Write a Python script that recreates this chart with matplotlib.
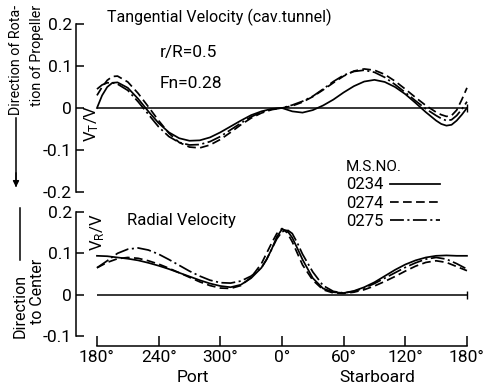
import matplotlib
matplotlib.use('Agg')
import matplotlib.pyplot as plt

plt.rcParams['font.family'] = ['Roboto', 'DejaVu Sans']
plt.rcParams['mathtext.fontset'] = 'custom'
plt.rcParams['mathtext.rm'] = 'Roboto'
plt.rcParams['mathtext.it'] = 'Roboto'

# angle around the propeller disc, 180..540 stands for 180 deg port -> 0 -> 180 deg starboard
deg_top = [180, 185, 190, 195, 200, 210, 220, 230, 240, 250, 260, 270, 280, 290, 300,
           310, 320, 330, 340, 350, 360, 370, 380, 390, 400, 410, 420, 430, 440, 450,
           460, 470, 480, 490, 500, 510, 515, 520, 525, 530, 535, 540]
tan_0234 = [0.0, 0.03, 0.05, 0.06, 0.061, 0.048, 0.022, -0.008, -0.036, -0.058, -0.072,
            -0.078, -0.077, -0.07, -0.058, -0.044, -0.03, -0.017, -0.008, -0.002, 0.0,
            -0.008, -0.011, -0.005, 0.006, 0.02, 0.037, 0.052, 0.063, 0.067, 0.062, 0.05,
            0.033, 0.012, -0.01, -0.03, -0.038, -0.042, -0.04, -0.03, -0.016, 0.0]
tan_0274 = [0.03, 0.05, 0.066, 0.075, 0.076, 0.062, 0.035, 0.003, -0.03, -0.06, -0.082,
            -0.093, -0.095, -0.088, -0.075, -0.058, -0.04, -0.024, -0.012, -0.004, 0.0,
            0.005, 0.014, 0.027, 0.043, 0.06, 0.076, 0.088, 0.093, 0.09, 0.08, 0.064,
            0.045, 0.025, 0.006, -0.01, -0.016, -0.02, -0.018, -0.005, 0.02, 0.048]
tan_0275 = [0.045, 0.055, 0.06, 0.06, 0.057, 0.042, 0.015, -0.015, -0.045, -0.068, -0.082,
            -0.088, -0.087, -0.08, -0.068, -0.052, -0.036, -0.021, -0.01, -0.003, 0.0,
            0.007, 0.016, 0.028, 0.045, 0.063, 0.078, 0.087, 0.09, 0.085, 0.073, 0.056,
            0.037, 0.017, -0.002, -0.018, -0.025, -0.03, -0.028, -0.018, -0.003, 0.015]

deg_bot = [180, 190, 200, 210, 220, 230, 240, 250, 260, 270, 280, 290, 300, 310, 320,
           330, 340, 345, 350, 355, 360, 365, 370, 375, 380, 390, 400, 410, 420, 430,
           440, 450, 460, 470, 480, 490, 500, 510, 520, 530, 540]
rad_0234 = [0.094, 0.093, 0.09, 0.087, 0.083, 0.077, 0.07, 0.062, 0.053, 0.044, 0.035,
            0.027, 0.021, 0.018, 0.024, 0.04, 0.065, 0.085, 0.11, 0.14, 0.158, 0.155,
            0.138, 0.112, 0.085, 0.04, 0.015, 0.006, 0.004, 0.009, 0.018, 0.03, 0.045,
            0.06, 0.073, 0.083, 0.09, 0.094, 0.095, 0.094, 0.094]
rad_0274 = [0.065, 0.078, 0.087, 0.09, 0.088, 0.082, 0.074, 0.064, 0.053, 0.042, 0.031,
            0.022, 0.016, 0.015, 0.022, 0.042, 0.075, 0.1, 0.125, 0.148, 0.16, 0.15,
            0.128, 0.1, 0.072, 0.035, 0.012, 0.004, 0.003, 0.006, 0.012, 0.021, 0.032,
            0.044, 0.057, 0.069, 0.078, 0.082, 0.078, 0.068, 0.058]
rad_0275 = [0.065, 0.082, 0.1, 0.11, 0.113, 0.108, 0.098, 0.085, 0.071, 0.057, 0.045,
            0.035, 0.029, 0.028, 0.033, 0.045, 0.065, 0.085, 0.11, 0.135, 0.152, 0.157,
            0.148, 0.125, 0.098, 0.055, 0.022, 0.008, 0.004, 0.008, 0.016, 0.027, 0.04,
            0.053, 0.066, 0.077, 0.086, 0.09, 0.086, 0.075, 0.062]

ms_no = ['0234', '0274', '0275']
x_ticks = [180, 240, 300, 360, 420, 480, 540]
x_labels = ['180°', '240°', '300°', '0°', '60°', '120°', '180°']
top_ticks = [0.2, 0.1, 0, -0.1, -0.2]
top_labels = ['0.2', '0.1', '0', '-0.1', '-0.2']
bot_ticks = [0.2, 0.1, 0, -0.1]
bot_labels = ['0.2', '0.1', '0', '-0.1']

styles = [dict(linestyle='-'),
          dict(dashes=(5, 2.5)),
          dict(dashes=(8, 2, 1.2, 2))]

W, H = 500, 386


def fx(x):
    return x / W


def fy(y):
    return 1 - y / H


fig = plt.figure(figsize=(5, 3.86), dpi=100)
ax1 = fig.add_axes([fx(76), fy(192), (472 - 76) / W, (192 - 24) / H])
ax2 = fig.add_axes([fx(76), fy(336), (472 - 76) / W, (336 - 212) / H])

for ax in (ax1, ax2):
    ax.set_xlim(159.6, 544.9)
    ax.spines['top'].set_visible(False)
    ax.spines['right'].set_visible(False)
    ax.spines['left'].set_linewidth(1.1)
    ax.tick_params(axis='y', direction='in', length=6, width=1.1, pad=3, labelsize=12.5)
    ax.patch.set_alpha(0)

ax1.set_ylim(-0.2, 0.2)
ax1.set_yticks(top_ticks, top_labels)
ax1.spines['bottom'].set_visible(False)
ax1.set_xticks([])

ax2.set_ylim(-0.1, 0.2)
ax2.set_yticks(bot_ticks, bot_labels)
ax2.spines['bottom'].set_position(('outward', 7))
ax2.spines['bottom'].set_bounds(x_ticks[0], x_ticks[-1])
ax2.spines['bottom'].set_linewidth(1.1)
ax2.set_xticks(x_ticks, x_labels)
ax2.tick_params(axis='x', direction='in', length=7, width=1.1, pad=3, labelsize=12.5)

for series, st in zip([tan_0234, tan_0274, tan_0275], styles):
    ax1.plot(deg_top, series, color='black', lw=1.25, **st)
for series, st, name in zip([rad_0234, rad_0274, rad_0275], styles, ms_no):
    ax2.plot(deg_bot, series, color='black', lw=1.25, label=name, **st)

for ax, d in ((ax1, deg_top), (ax2, deg_bot)):
    ax.hlines(0, d[0], d[-1], color='black', lw=1.1)
    ax.plot(d[-1], 0, marker='|', color='black', ms=6, mew=1)

leg = fig.legend(*ax2.get_legend_handles_labels(), loc='upper left',
                 bbox_to_anchor=(fx(336), fy(150)), frameon=False, markerfirst=False,
                 title='M.S.NO.', alignment='left', fontsize=12, title_fontsize=11,
                 handlelength=3.0, handletextpad=0.4, labelspacing=0.2, borderpad=0.1)

fig.text(fx(107), fy(17), 'Tangential Velocity (cav.tunnel)', fontsize=11.5,
         va='center', ha='left')
fig.text(fx(160), fy(53), 'r/R=0.5', fontsize=12.5, va='center', ha='left')
fig.text(fx(160), fy(83), 'Fn=0.28', fontsize=12.5, va='center', ha='left')
fig.text(fx(127), fy(221), 'Radial Velocity', fontsize=12, va='center', ha='left')
fig.text(fx(92), fy(123), 'V$_T$/V', fontsize=12, rotation=90, va='center', ha='center')
fig.text(fx(98), fy(232), 'V$_R$/V', fontsize=12, rotation=90, va='center', ha='center')

narrow = ['Liberation Sans Narrow', 'Roboto', 'DejaVu Sans']
fig.text(fx(16), fy(5), 'Direction of Rota-', fontsize=10.3, rotation=90,
         va='top', ha='center', family=narrow)
fig.text(fx(37), fy(5), 'tion of Propeller', fontsize=10.3, rotation=90,
         va='top', ha='center', family=narrow)
fig.text(fx(20), fy(338), 'Direction', fontsize=11.5, rotation=90,
         va='bottom', ha='center', family=narrow)
fig.text(fx(37), fy(324), 'to Center', fontsize=11.5, rotation=90,
         va='bottom', ha='center', family=narrow)
fig.add_artist(plt.Line2D([fx(16), fx(16)], [fy(118), fy(186)], transform=fig.transFigure,
                          color='black', lw=1.1))
fig.patches.append(matplotlib.patches.FancyArrowPatch(
    (fx(16), fy(170)), (fx(16), fy(190)), transform=fig.transFigure,
    arrowstyle='-|>', mutation_scale=9, color='black', lw=1))
fig.add_artist(plt.Line2D([fx(20), fx(20)], [fy(208), fy(260)], transform=fig.transFigure,
                          color='black', lw=1.1))

fig.text(fx(193), fy(377), 'Port', fontsize=12.5, va='center', ha='center')
fig.text(fx(377), fy(377), 'Starboard', fontsize=12.5, va='center', ha='center')

fig.savefig('out.png', dpi=100)
